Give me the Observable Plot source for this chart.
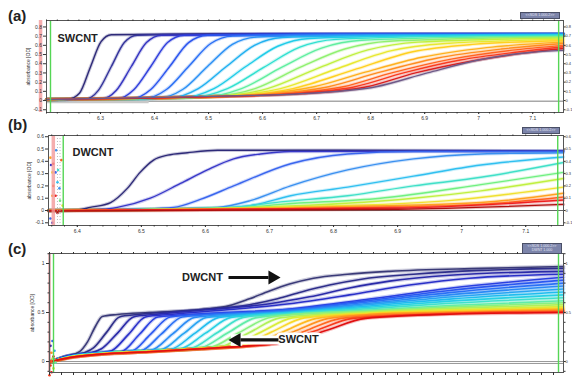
<!DOCTYPE html>
<html><head><meta charset="utf-8">
<script src="https://cdn.jsdelivr.net/npm/d3@7"></script>
<script src="https://cdn.jsdelivr.net/npm/@observablehq/plot@0.6"></script>
<style>
body{margin:0;background:#fff;}
#root{position:relative;width:572px;height:379px;overflow:hidden;font-family:Arial,"Liberation Sans",sans-serif;background:#fff;}
.panel{position:absolute;left:0;}
.tag{position:absolute;font-weight:bold;font-size:15px;line-height:15px;color:#222;}
.box{position:absolute;background:#7c84aa;color:#e4e6f4;font-size:3.6px;line-height:4.2px;text-align:center;border:1px solid #4a4f66;overflow:hidden;white-space:nowrap;}
</style></head><body><div id="root"></div>
<script>
// ---------- Panel (a): SWCNT ----------
const radiusTicksA = [6.3, 6.4, 6.5, 6.6, 6.7, 6.8, 6.9, 7, 7.1];
const absTicksA = [-0.1, 0, 0.1, 0.2, 0.3, 0.4, 0.5, 0.6, 0.7, 0.8];
const curvesA = [
  [[6.2,.012],[6.24,.015],[6.261,.08],[6.281,.36],[6.301,.64],[6.32,.715],[6.5,.725],[7.157,.725]],
  [[6.2,.012],[6.272,.015],[6.296,.11],[6.32,.37],[6.344,.63],[6.368,.71],[6.5,.72],[7.157,.725]],
  [[6.2,.012],[6.301,.016],[6.329,.11],[6.357,.37],[6.385,.63],[6.413,.71],[6.6,.72],[7.157,.725]],
  [[6.2,.012],[6.331,.018],[6.362,.12],[6.393,.37],[6.424,.63],[6.455,.71],[6.6,.72],[7.157,.72]],
  [[6.2,.012],[6.358,.02],[6.393,.12],[6.428,.37],[6.463,.63],[6.498,.71],[6.7,.72],[7.157,.72]],
  [[6.2,.012],[6.381,.022],[6.422,.12],[6.463,.37],[6.504,.62],[6.545,.70],[6.75,.72],[7.157,.72]],
  [[6.2,.012],[6.406,.025],[6.452,.12],[6.498,.37],[6.544,.61],[6.59,.69],[6.8,.715],[7.157,.72]],
  [[6.2,.012],[6.429,.028],[6.481,.13],[6.533,.37],[6.585,.60],[6.637,.685],[6.85,.71],[7.157,.72]],
  [[6.2,.012],[6.451,.03],[6.51,.13],[6.569,.37],[6.628,.59],[6.687,.675],[6.9,.705],[7.157,.715]],
  [[6.2,.012],[6.468,.033],[6.535,.13],[6.602,.36],[6.669,.58],[6.736,.665],[6.95,.70],[7.157,.71]],
  [[6.2,.012],[6.487,.036],[6.561,.13],[6.635,.36],[6.709,.57],[6.783,.655],[7.0,.69],[7.157,.70]],
  [[6.2,.012],[6.45,.03],[6.503,.04],[6.586,.13],[6.669,.36],[6.752,.56],[6.835,.645],[7.157,.69]],
  [[6.2,.012],[6.45,.032],[6.516,.045],[6.609,.13],[6.702,.35],[6.795,.55],[6.888,.635],[7.157,.68]],
  [[6.2,.012],[6.45,.034],[6.531,.05],[6.633,.13],[6.735,.34],[6.837,.54],[6.939,.62],[7.157,.665]],
  [[6.2,.012],[6.45,.035],[6.545,.05],[6.656,.13],[6.767,.33],[6.878,.53],[6.989,.61],[7.157,.65]],
  [[6.2,.012],[6.45,.036],[6.595,.07],[6.695,.15],[6.785,.30],[6.895,.47],[7.015,.575],[7.157,.635]],
  [[6.2,.012],[6.45,.037],[6.612,.07],[6.722,.15],[6.812,.30],[6.922,.46],[7.042,.56],[7.157,.62]],
  [[6.2,.012],[6.47,.038],[6.629,.07],[6.749,.15],[6.839,.30],[6.949,.45],[7.059,.545],[7.157,.60]],
  [[6.2,.012],[6.5,.04],[6.656,.075],[6.771,.15],[6.861,.30],[6.966,.44],[7.076,.53],[7.157,.585]],
  [[6.2,.012],[6.5,.042],[6.673,.075],[6.793,.15],[6.883,.30],[6.988,.43],[7.083,.515],[7.157,.565]],
  [[6.2,.012],[6.5,.045],[6.69,.08],[6.81,.15],[6.905,.30],[7.0,.44],[7.09,.52],[7.157,.545]]
];
const paletteA = ["#2e2a78","#33339a","#3434c0","#2f3fdc","#2a55ee","#2a70f5","#2a90f5","#20b0f0","#20cce8","#30e0d0","#60eea0","#90f070","#c0f040","#e8e830","#ffd020","#ffb020","#ff8c20","#ff6420","#f83c20","#d82020","#6e5a88"];
const baselineA = [-0.008];
const meniscusA = [6.189];
const limitsA = [6.2074, 7.148];

// ---------- Panel (b): DWCNT ----------
const radiusTicksB = [6.4, 6.5, 6.6, 6.7, 6.8, 6.9, 7, 7.1];
const absTicksB = [-0.1, 0, 0.1, 0.2, 0.3, 0.4, 0.5, 0.6];
const curvesB = [
  [[6.355,0],[6.40,.005],[6.42,.025],[6.452,.065],[6.478,.18],[6.498,.31],[6.519,.41],[6.541,.45],[6.572,.47],[6.619,.49],[6.8,.49],[7.159,.485]],
  [[6.355,0],[6.44,.01],[6.4625,.025],[6.514,.1],[6.561,.22],[6.603,.33],[6.644,.42],[6.686,.46],[6.733,.48],[7.159,.485]],
  [[6.355,0],[6.5,.012],[6.55,.025],[6.592,.09],[6.644,.2],[6.733,.38],[6.822,.46],[6.925,.48],[7.159,.48]],
  [[6.355,0],[6.55,.015],[6.619,.025],[6.67,.08],[6.733,.2],[6.822,.33],[6.925,.42],[7.03,.46],[7.159,.47]],
  [[6.355,0],[6.6,.015],[6.67,.04],[6.733,.12],[6.822,.19],[6.925,.28],[7.03,.37],[7.159,.435]],
  [[6.355,0],[6.639,.025],[6.717,.07],[6.822,.12],[6.925,.2],[7.03,.27],[7.159,.39]],
  [[6.355,0],[6.65,.02],[6.717,.05],[6.873,.1],[7.03,.21],[7.159,.31]],
  [[6.355,0],[6.7,.03],[6.925,.1],[7.03,.16],[7.159,.26]],
  [[6.355,0],[6.75,.03],[6.98,.08],[7.159,.19]],
  [[6.355,0],[6.8,.03],[7.03,.065],[7.159,.14]],
  [[6.355,0],[6.85,.025],[7.03,.05],[7.159,.11]],
  [[6.355,0],[6.9,.02],[7.159,.085]],
  [[6.355,-.005],[6.9,.01],[7.159,.05]]
];
const paletteB = ["#2e2a78","#3838c8","#3a66ee","#3a90f0","#30c0f0","#40e0c8","#70f080","#c0f040","#f0e030","#ffa020","#ff6020","#f02020","#b01010"];
const noiseB = [[6.358,.43,9],[6.359,.37,1],[6.3625,.38,11],[6.361,.31,8],[6.366,.31,2],[6.3625,.2,10],[6.369,.23,4],[6.366,.12,11],[6.361,.12,9],[6.373,.08,6],[6.372,.18,3],[6.369,-.02,12],[6.358,-.065,2],[6.361,-.1,1],[6.377,.04,8],[6.37,.33,5],[6.375,.41,10],[6.367,.49,3]];
const baselineB = [0];
const meniscusB = [6.3625];
const dottedB = [6.369, 6.373];
const limitsB = [6.378, 7.15];

// ---------- Panel (c): mixture ----------
const absTicksC = [0, 0.5, 1];
const curvesC = [
  [[5.905,0],[5.94,.05],[5.975,.10],[5.995,.2],[6.015,.36],[6.032,.46],[6.07,.48],[6.15,.50],[6.28,.53],[6.35,.57],[6.40,.64],[6.45,.72],[6.50,.79],[6.56,.85],[6.645,.89],[6.75,.92],[6.98,.95],[7.185,.97]],
  [[5.905,0],[5.94,.05],[5.99,.095],[6.01,.14],[6.043,.30],[6.075,.455],[6.12,.48],[6.28,.53],[6.40,.58],[6.47,.64],[6.53,.71],[6.6,.78],[6.68,.84],[6.81,.89],[6.98,.93],[7.185,.95]],
  [[5.905,0],[5.94,.05],[6.005,.09],[6.03,.13],[6.07,.29],[6.11,.455],[6.16,.48],[6.30,.53],[6.45,.59],[6.55,.66],[6.65,.75],[6.75,.82],[6.9,.88],[7.185,.92]],
  [[5.905,0],[5.95,.057],[6.03,.09],[6.055,.11],[6.098,.28],[6.14,.455],[6.2,.48],[6.35,.53],[6.5,.59],[6.65,.68],[6.8,.78],[6.95,.85],[7.185,.89]],
  [[5.905,0],[5.95,.056],[6.03,.091],[6.079,.101],[6.125,.278],[6.171,.455],[6.5,.536],[6.7,.637],[6.9,.747],[7.185,.86]],
  [[5.905,0],[5.95,.055],[6.03,.09],[6.104,.105],[6.153,.28],[6.202,.455],[6.5,.53],[6.7,.624],[6.9,.725],[7.185,.83]],
  [[5.905,0],[5.95,.054],[6.03,.089],[6.128,.109],[6.18,.282],[6.232,.455],[6.5,.524],[6.7,.61],[6.9,.703],[7.185,.80]],
  [[5.905,0],[5.95,.053],[6.03,.088],[6.153,.114],[6.208,.282],[6.263,.45],[6.5,.514],[6.7,.594],[6.9,.68],[7.185,.77]],
  [[5.905,0],[5.95,.052],[6.03,.087],[6.177,.118],[6.235,.284],[6.293,.45],[6.5,.508],[6.7,.581],[6.9,.659],[7.185,.74]],
  [[5.905,0],[5.95,.051],[6.03,.086],[6.15,.111],[6.202,.123],[6.263,.287],[6.324,.45],[6.5,.502],[6.7,.567],[6.9,.637],[7.185,.71]],
  [[5.905,0],[5.95,.05],[6.03,.085],[6.15,.11],[6.226,.128],[6.29,.289],[6.354,.45],[6.5,.496],[6.7,.554],[6.9,.616],[7.185,.68]],
  [[5.905,0],[5.95,.049],[6.03,.084],[6.15,.109],[6.251,.132],[6.318,.291],[6.385,.45],[6.5,.49],[6.7,.54],[6.9,.594],[7.185,.65]],
  [[5.905,0],[5.95,.048],[6.03,.083],[6.15,.108],[6.275,.137],[6.345,.291],[6.415,.445],[6.5,.48],[6.7,.524],[6.9,.571],[7.185,.62]],
  [[5.905,0],[5.95,.047],[6.03,.082],[6.15,.107],[6.30,.142],[6.373,.294],[6.446,.445],[6.5,.476],[6.7,.515],[6.9,.557],[7.185,.60]],
  [[5.905,0],[5.95,.046],[6.03,.081],[6.15,.106],[6.324,.147],[6.40,.296],[6.476,.445],[6.7,.506],[6.9,.542],[7.185,.58]],
  [[5.905,0],[5.95,.045],[6.03,.08],[6.15,.105],[6.28,.135],[6.349,.152],[6.428,.299],[6.507,.445],[6.7,.497],[6.9,.528],[7.185,.56]],
  [[5.905,0],[5.95,.044],[6.03,.079],[6.15,.104],[6.28,.134],[6.373,.157],[6.455,.301],[6.537,.445],[6.7,.49],[6.9,.517],[7.185,.545]],
  [[5.905,0],[5.95,.043],[6.03,.078],[6.15,.103],[6.28,.133],[6.398,.163],[6.483,.301],[6.568,.44],[6.7,.483],[6.9,.508],[7.185,.535]],
  [[5.905,0],[5.95,.042],[6.03,.077],[6.15,.102],[6.28,.132],[6.422,.17],[6.51,.305],[6.598,.44],[6.7,.478],[6.9,.501],[7.185,.525]],
  [[5.905,0],[5.95,.041],[6.03,.076],[6.15,.101],[6.28,.131],[6.40,.161],[6.447,.179],[6.538,.31],[6.629,.44],[6.75,.474],[6.9,.494],[7.185,.515]],
  [[5.905,0],[5.95,.04],[6.03,.075],[6.15,.10],[6.28,.13],[6.40,.16],[6.471,.187],[6.565,.314],[6.659,.44],[6.9,.489],[7.185,.508]],
  [[5.905,0],[5.95,.04],[6.03,.075],[6.15,.10],[6.28,.13],[6.40,.16],[6.496,.197],[6.593,.318],[6.69,.44],[6.9,.483],[7.185,.50]]
];
const paletteC = ["#3a3a78","#2e2e8a","#2a2aa8","#2a30c8","#2a40e0","#2a58f0","#2a70f5","#2a8af5","#28a4f2","#20bcee","#28d0e4","#40e0cc","#60eca8","#88f080","#b0f058","#d8ec38","#f8d828","#ffb820","#ff9020","#ff6820","#f83c1c","#e01010"];
const noiseC = [[5.9025,.16,3],[5.905,.09,18],[5.9075,.03,14],[5.9025,-.04,20],[5.91,-.07,16],[5.905,-.11,21],[5.9125,.11,8],[5.9075,.21,5],[5.9,-.14,20],[5.915,-.01,12],[5.91,.05,21],[5.9025,0,19]];
const baselineC = [0, -0.02];
const meniscusC = [5.9];
const limitsC = [5.91, 7.1725];
const labelsC = [{r: 6.2825, v: 0.857, text: "DWCNT"}, {r: 6.5225, v: 0.224, text: "SWCNT"}];
const arrowShaftsC = [{r1: 6.3475, r2: 6.4475, v: 0.857}, {r1: 6.4725, r2: 6.3775, v: 0.22}];
const arrowHeadsC = [{r: 6.4575, v: 0.857, rot: 90}, {r: 6.3675, v: 0.22, rot: -90}];

// ---------- helpers ----------
const flat = curves => curves.flatMap((pts, id) => pts.map(([r, v]) => ({id, r, v})));
const fmt = d => String(d);
const blank = () => "";
const baseStyle = {fontSize: "5px", fontFamily: "Arial, 'Liberation Sans', sans-serif", color: "#333", background: "transparent", overflow: "visible"};
const root = document.getElementById("root");
function place(svg, top) {
  const wrap = document.createElement("div");
  wrap.className = "panel";
  wrap.style.top = top + "px";
  wrap.appendChild(svg);
  root.appendChild(wrap);
}
function curveMarks(data, halo, core) {
  return [
    Plot.line(data, {x: "r", y: "v", z: "id", stroke: "id", strokeWidth: halo, strokeOpacity: 0.25, curve: "monotone-x"}),
    Plot.line(data, {x: "r", y: "v", z: "id", stroke: "id", strokeWidth: core, curve: "monotone-x"})
  ];
}

// ---------- (a) ----------
const dataA = flat(curvesA);
const minorA = d3.range(6.2, 7.16, 0.02);
place(Plot.plot({
  width: 572, height: 125, marginTop: 20, marginBottom: 13, marginLeft: 46, marginRight: 9,
  style: baseStyle,
  x: {domain: [6.2, 7.157]},
  y: {domain: [-0.13, 0.87]},
  color: {type: "ordinal", domain: d3.range(curvesA.length), range: paletteA},
  marks: [
    Plot.ruleY(baselineA, {stroke: "#a8a8a8", strokeWidth: 1.6}),
    Plot.ruleY(baselineA, {x1: 6.2, x2: 6.39, stroke: "#c8c8c8", strokeWidth: 4}),
    ...curveMarks(dataA, 3.4, 1.4),
    Plot.ruleX(meniscusA, {stroke: "#f29a9a", strokeWidth: 3.5, strokeOpacity: 0.8}),
    Plot.ruleX(limitsA, {stroke: "#55d655", strokeWidth: 1.4}),
    Plot.frame({stroke: "#555"}),
    Plot.axisX({ticks: radiusTicksA, tickSize: 2, tickPadding: 1.5, tickFormat: fmt, label: null}),
    Plot.axisX({ticks: minorA, tickSize: 1.5, tickFormat: blank, label: null}),
    Plot.axisX({anchor: "top", ticks: minorA, tickSize: 1.5, tickFormat: blank, label: null}),
    Plot.axisY({ticks: absTicksA, tickSize: 3, tickPadding: 1.5, tickFormat: fmt, label: "absorbance [OD]", labelAnchor: "center", labelArrow: "none", labelOffset: 20}),
    Plot.axisY({anchor: "right", ticks: absTicksA, tickSize: 1.5, tickPadding: 0.5, tickFormat: fmt, fontSize: 4, label: null}),
    Plot.text(["SWCNT"], {frameAnchor: "top-left", dx: 11, dy: 13.5, textAnchor: "start", fontWeight: "bold", fontSize: 11, fill: "#222"})
  ]
}), 0);

// ---------- (b) ----------
const dataB = flat(curvesB);
const noiseDataB = noiseB.map(([r, v, id]) => ({r, v, id}));
const minorB = d3.range(6.36, 7.16, 0.02);
place(Plot.plot({
  width: 572, height: 110, marginTop: 10, marginBottom: 10, marginLeft: 48, marginRight: 9,
  style: baseStyle,
  x: {domain: [6.355, 7.159]},
  y: {domain: [-0.122, 0.61]},
  color: {type: "ordinal", domain: d3.range(curvesB.length), range: paletteB},
  marks: [
    Plot.ruleY(baselineB, {stroke: "#666", strokeWidth: 1}),
    ...curveMarks(dataB, 3.4, 1.4),
    Plot.dot(noiseDataB, {x: "r", y: "v", fill: "id", r: 1.3}),
    Plot.ruleX(meniscusB, {stroke: "#f29a9a", strokeWidth: 3.5, strokeOpacity: 0.8}),
    Plot.ruleX(dottedB, {stroke: "#aaa", strokeWidth: 0.8, strokeDasharray: "1,2"}),
    Plot.ruleX(limitsB, {stroke: "#55d655", strokeWidth: 1.4}),
    Plot.frame({stroke: "#555"}),
    Plot.axisX({ticks: radiusTicksB, tickSize: 2, tickPadding: 1.5, tickFormat: fmt, label: null}),
    Plot.axisX({ticks: minorB, tickSize: 1.5, tickFormat: blank, label: null}),
    Plot.axisX({anchor: "top", ticks: minorB, tickSize: 1.5, tickFormat: blank, label: null}),
    Plot.axisY({ticks: absTicksB, tickSize: 3, tickPadding: 1.5, tickFormat: fmt, label: "absorbance [OD]", labelAnchor: "center", labelArrow: "none", labelOffset: 21}),
    Plot.axisY({anchor: "right", ticks: absTicksB, tickSize: 1.5, tickPadding: 0.5, tickFormat: fmt, fontSize: 4, label: null}),
    Plot.text(["DWCNT"], {frameAnchor: "top-left", dx: 24, dy: 13, textAnchor: "start", fontWeight: "bold", fontSize: 11, fill: "#222"})
  ]
}), 125);

// ---------- (c) ----------
const dataC = flat(curvesC);
const noiseDataC = noiseC.map(([r, v, id]) => ({r, v, id}));
const minorC = d3.range(5.9, 7.19, 0.03);
const minorYC = d3.range(-0.1, 1.11, 0.1);
place(Plot.plot({
  width: 572, height: 144, marginTop: 18, marginBottom: 7, marginLeft: 49, marginRight: 9,
  style: baseStyle,
  x: {domain: [5.9, 7.185]},
  y: {domain: [-0.112, 1.102]},
  color: {type: "ordinal", domain: d3.range(curvesC.length), range: paletteC},
  marks: [
    Plot.ruleY(baselineC, {stroke: "#999", strokeWidth: 1}),
    ...curveMarks(dataC, 3.8, 1.6),
    Plot.dot(noiseDataC, {x: "r", y: "v", fill: "id", r: 1.3}),
    Plot.ruleX(meniscusC, {stroke: "#b02020", strokeWidth: 1.6}),
    Plot.ruleX(limitsC, {stroke: "#55d655", strokeWidth: 1.4}),
    Plot.frame({stroke: "#555"}),
    Plot.axisX({ticks: minorC, tickSize: 3, tickFormat: blank, label: null}),
    Plot.axisX({anchor: "top", ticks: minorC, tickSize: 2, tickFormat: blank, label: null}),
    Plot.axisY({ticks: absTicksC, tickSize: 3, tickPadding: 2, tickFormat: fmt, label: "absorbance [OD]", labelAnchor: "center", labelArrow: "none", labelOffset: 19}),
    Plot.axisY({ticks: minorYC, tickSize: 1.5, tickFormat: blank, label: null}),
    Plot.axisY({anchor: "right", ticks: absTicksC, tickSize: 1.5, tickPadding: 0.5, tickFormat: fmt, fontSize: 4, label: null}),
    Plot.axisY({anchor: "right", ticks: minorYC, tickSize: 1.5, tickFormat: blank, label: null}),
    // white knock-out behind the annotations, as in the figure
    Plot.link(arrowShaftsC, {x1: "r1", x2: "r2", y1: "v", y2: "v", stroke: "#fff", strokeWidth: 9}),
    Plot.dot(arrowHeadsC, {x: "r", y: "v", symbol: "square", r: 6.5, fill: "#fff"}),
    Plot.text(labelsC, {x: "r", y: "v", text: "text", fontWeight: "bold", fontSize: 11, fill: "#fff", stroke: "#fff", strokeWidth: 5}),
    Plot.link(arrowShaftsC, {x1: "r1", x2: "r2", y1: "v", y2: "v", stroke: "#111", strokeWidth: 3.2}),
    Plot.dot(arrowHeadsC, {x: "r", y: "v", symbol: "triangle", r: 5.2, fill: "#111", rotate: "rot"}),
    Plot.text(labelsC, {x: "r", y: "v", text: "text", fontWeight: "bold", fontSize: 11, fill: "#222"})
  ]
}), 235);

// ---------- tags and header boxes ----------
const tags = [["(a)", 8, 8], ["(b)", 8, 117], ["(c)", 8, 241]];
for (const [t, x, y] of tags) {
  const d = document.createElement("div");
  d.className = "tag"; d.textContent = t;
  d.style.left = x + "px"; d.style.top = y + "px";
  root.appendChild(d);
}
const boxes = [[520, 12, 38, 5, ["<<SDS 1.000.2>>"]], [522, 127, 36, 5, ["<<SDS 1.000.2>>"]], [522, 243, 38, 9, ["<<SDS 1.000.2>>", "DWNT 1.000"]]];
for (const [x, y, w, h, lines] of boxes) {
  const d = document.createElement("div");
  d.className = "box";
  lines.forEach((t, i) => { if (i) d.appendChild(document.createElement("br")); d.appendChild(document.createTextNode(t)); });
  Object.assign(d.style, {left: x + "px", top: y + "px", width: w + "px", height: h + "px"});
  root.appendChild(d);
}
</script></body></html>
